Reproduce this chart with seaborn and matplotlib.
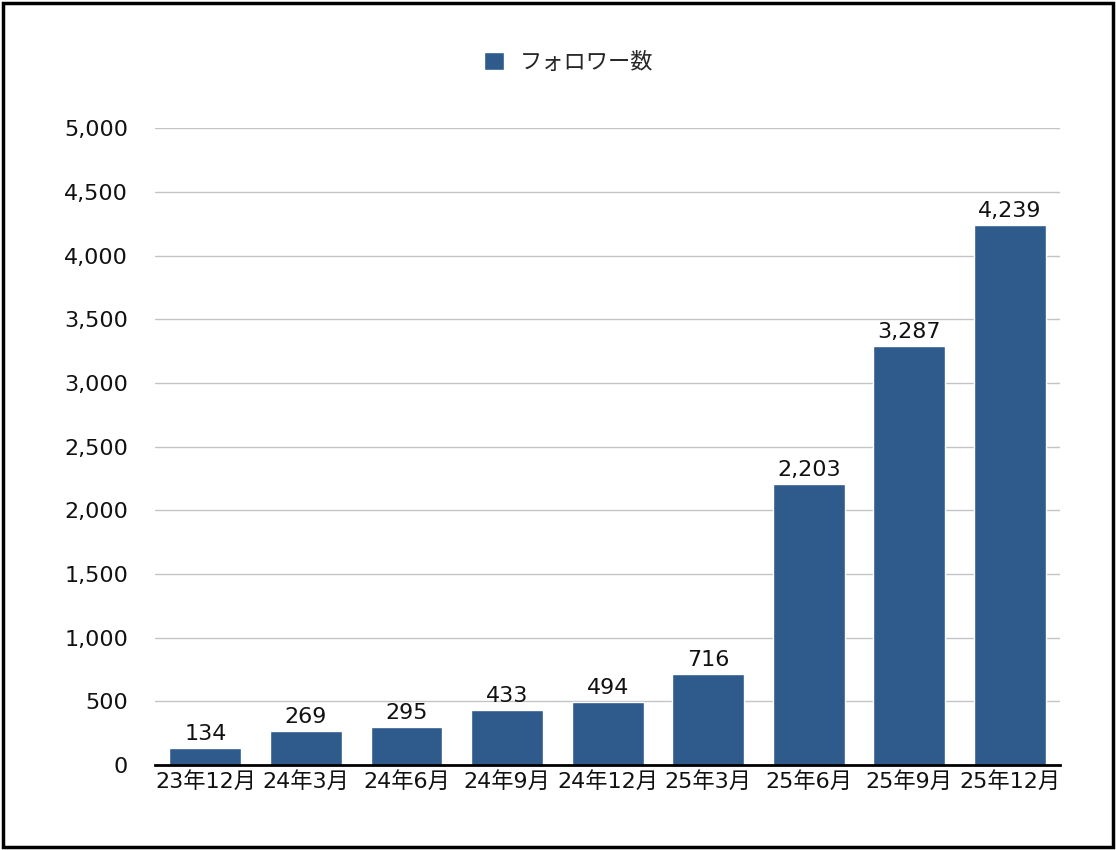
import matplotlib
matplotlib.use("Agg")
import matplotlib.pyplot as plt
import seaborn as sns
import pandas as pd
from matplotlib.patches import Rectangle

categories = ["23年12月", "24年3月", "24年6月", "24年9月", "24年12月", "25年3月", "25年6月", "25年9月", "25年12月"]
followers = [134, 269, 295, 433, 494, 716, 2203, 3287, 4239]
series_name = "フォロワー数"
yticks = [0, 500, 1000, 1500, 2000, 2500, 3000, 3500, 4000, 4500, 5000]

sns.set_theme(style="white")
plt.rcParams['font.family'] = ['DejaVu Sans', 'Noto Sans CJK JP']

df = pd.DataFrame({"month": categories, "value": followers})
bar_color = "#2e5a8c"

fig = plt.figure(figsize=(11.16, 8.5), dpi=100)
ax = fig.add_axes([0.139, 0.1, 0.811, 0.749])
sns.barplot(data=df, x="month", y="value", color=bar_color, width=0.715,
            label=series_name, ax=ax, saturation=1, legend=False)

ax.set_ylim(0, 5000)
ax.set_xlim(-0.5, len(categories) - 0.5)
ax.set_yticks(yticks)
ax.set_yticklabels([f"{v:,}" for v in yticks])
ax.yaxis.grid(True, color="#c4c4c4", linewidth=1)
ax.set_axisbelow(True)
for s in ["top", "right", "left"]:
    ax.spines[s].set_visible(False)
ax.spines["bottom"].set_color("black")
ax.spines["bottom"].set_linewidth(2)
ax.tick_params(axis="both", length=0, labelsize=16, colors="#111111")
ax.tick_params(axis="y", pad=19.5)
ax.tick_params(axis="x", pad=4)
ax.set_xlabel("")
ax.set_ylabel("")

for container in ax.containers:
    ax.bar_label(container, labels=[f"{v:,}" for v in followers], padding=3,
                 fontsize=16, color="#111111")

handles, labels = ax.get_legend_handles_labels()
if ax.get_legend() is not None:
    ax.get_legend().remove()
fig.legend(handles, labels, loc="center", bbox_to_anchor=(0.5095, 0.927),
           frameon=False, fontsize=16, handlelength=0.9, handleheight=0.9,
           handletextpad=0.72)

fig.patches.append(Rectangle((0.003, 0.004), 0.994, 0.992, transform=fig.transFigure,
                             fill=False, edgecolor="black", linewidth=2.5))

fig.savefig("out.png", dpi=100, facecolor="white")
